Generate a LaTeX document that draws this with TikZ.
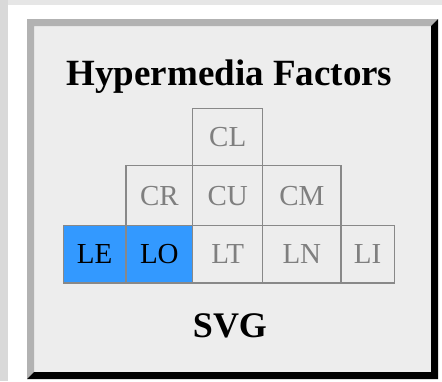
\documentclass[tikz,border=0pt]{standalone}
\usepackage{fontspec}
\setmainfont{Liberation Serif}
\definecolor{panel}{HTML}{EDEDED}
\definecolor{bevel}{HTML}{B2B2B2}
\definecolor{cellline}{HTML}{888888}
\definecolor{celltext}{HTML}{7F7F7F}
\definecolor{hilite}{HTML}{3399FF}
\definecolor{stripL}{HTML}{D9D9D9}
\definecolor{stripT}{HTML}{E6E6E6}
\tikzset{
  cellbox/.style={draw=cellline, line width=1.3pt, fill=panel, inner sep=0pt,
    font=\fontsize{29}{29}\selectfont, text=celltext},
  hicell/.style={cellbox, fill=hilite, text=black},
  titletext/.style={font=\fontsize{37}{37}\selectfont\bfseries, anchor=base, inner sep=0pt}
}
\begin{document}
\begin{tikzpicture}[x=1pt,y=-1pt]
\useasboundingbox (0,0) rectangle (442,381);
\fill[white] (0,0) rectangle (442,381);
\fill[stripT] (0,0) rectangle (442,5);
\fill[stripL] (0,0) rectangle (8,381);
% bevelled panel
\fill[panel] (34,26) rectangle (431,372);
\fill[bevel] (27,19) -- (438,19) -- (431,26) -- (34,26) -- (34,372) -- (27,379) -- cycle;
\fill[black] (438,19) -- (438,379) -- (27,379) -- (34,372) -- (431,372) -- (431,26) -- cycle;
% title
\node[titletext] (title) at (229.5,85) {Hypermedia Factors};
% cells
\node[cellbox, minimum width=70pt, minimum height=57.4pt] (CL) at (227.7,137) {CL};
\node[cellbox, minimum width=66.7pt, minimum height=60pt] (CR) at (159.35,195.7) {CR};
\node[cellbox, minimum width=70pt, minimum height=60pt] (CU) at (227.7,195.7) {CU};
\node[cellbox, minimum width=78.3pt, minimum height=60pt] (CM) at (301.85,195.7) {CM};
\node[hicell, minimum width=62.7pt, minimum height=57.3pt] (LE) at (94.65,254.35) {LE};
\node[hicell, minimum width=66.7pt, minimum height=57.3pt] (LO) at (159.35,254.35) {LO};
\node[cellbox, minimum width=70pt, minimum height=57.3pt] (LT) at (227.7,254.35) {LT};
\node[cellbox, minimum width=78.3pt, minimum height=57.3pt] (LN) at (301.85,254.35) {LN};
\node[cellbox, minimum width=53.3pt, minimum height=57.3pt] (LI) at (367.65,254.35) {LI};
% footer
\node[titletext, font=\fontsize{36}{36}\selectfont\bfseries] (svg) at (230,337) {SVG};
\end{tikzpicture}
\end{document}
